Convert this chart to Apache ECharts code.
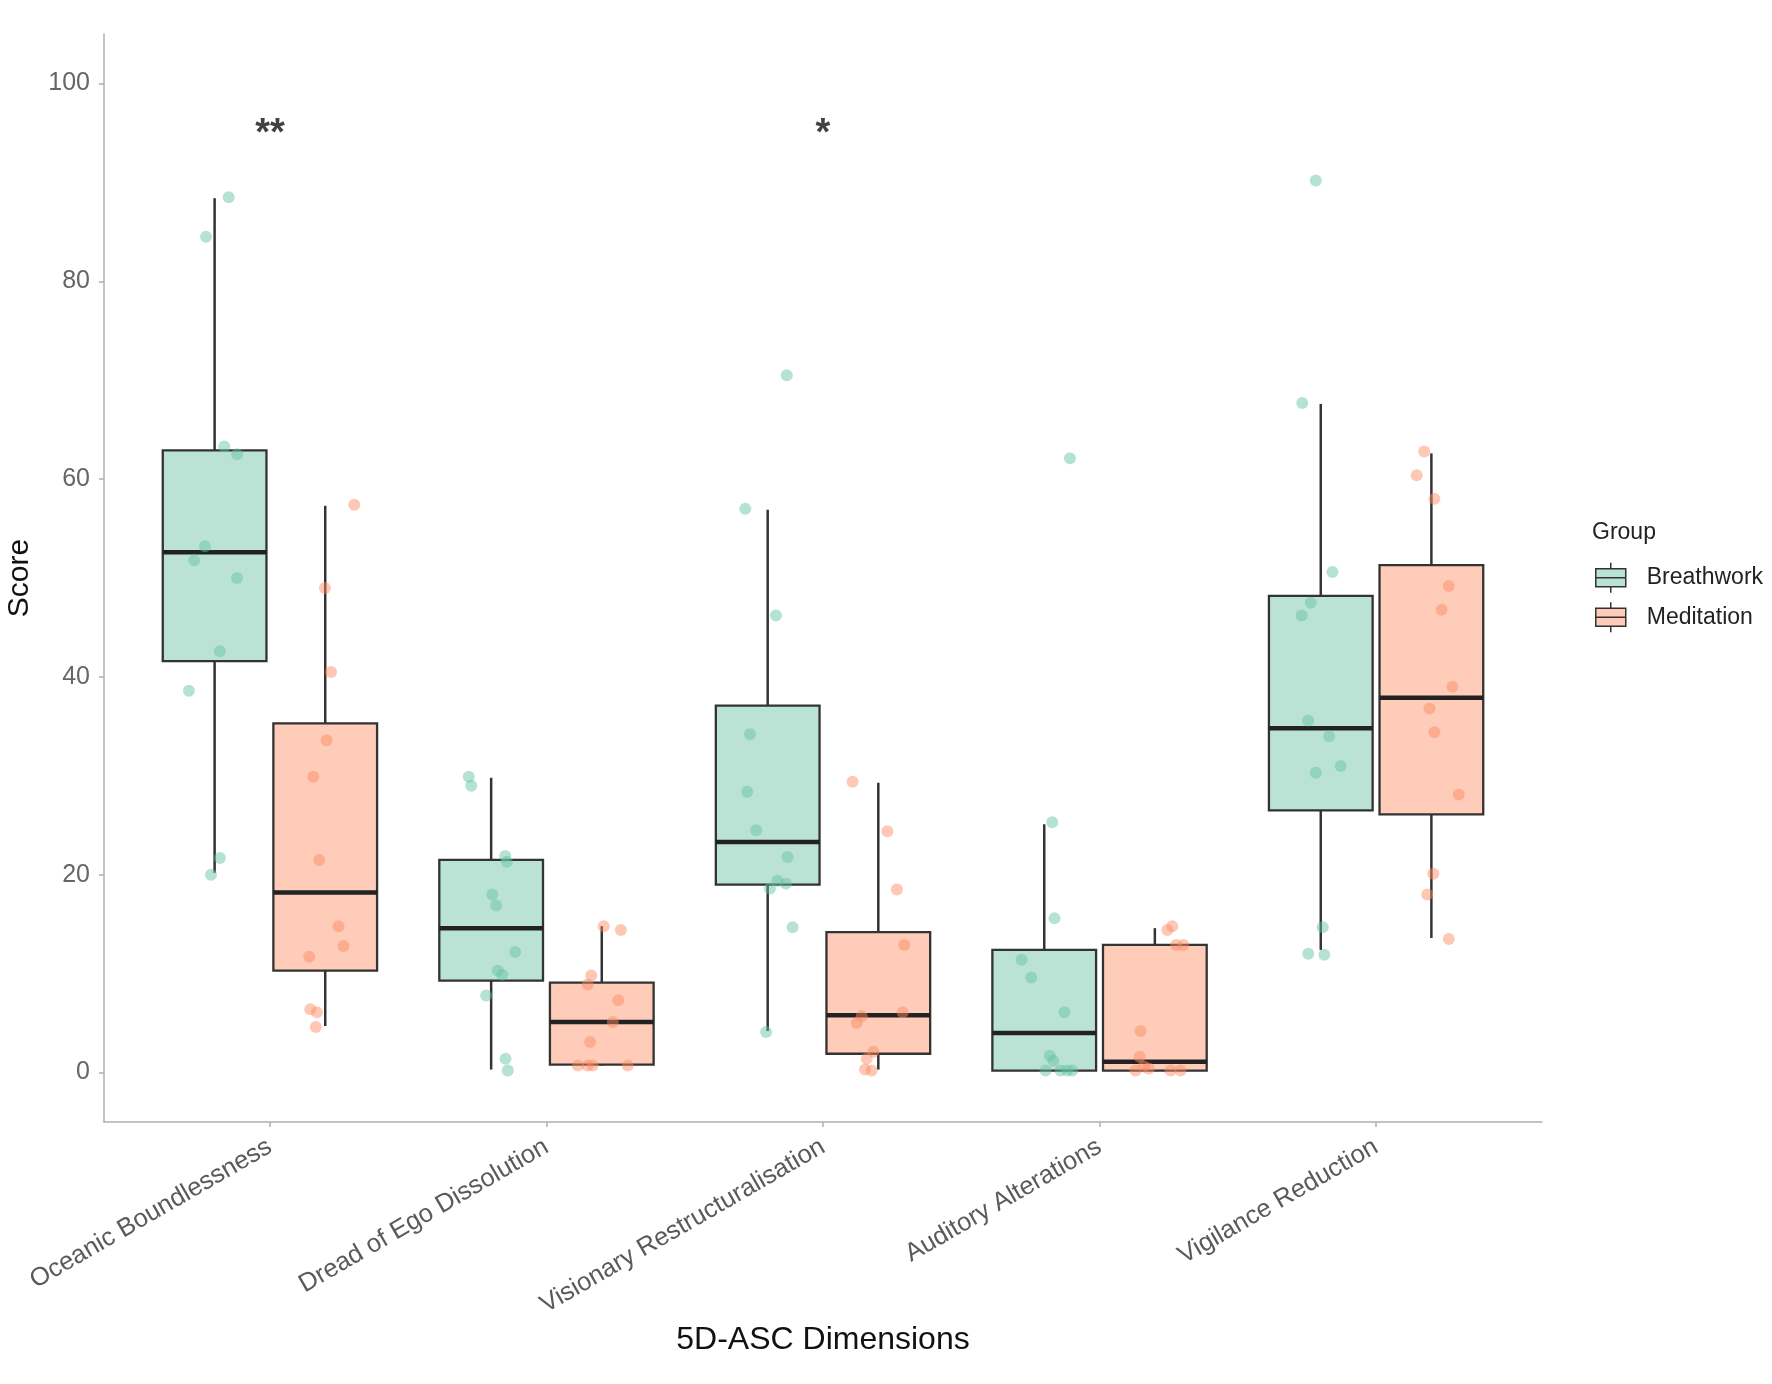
<!DOCTYPE html>
<html>
<head>
<meta charset="utf-8">
<script src="https://cdn.jsdelivr.net/npm/echarts@6/dist/echarts.min.js"></script>
<style>
  html, body { margin: 0; padding: 0; background: #fff; }
  #main { width: 1772px; height: 1384px; }
</style>
</head>
<body>
<div id="main"></div>
<script>
// 5D-ASC box plots, breathwork vs meditation
var categories = ['Oceanic Boundlessness', 'Dread of Ego Dissolution', 'Visionary Restructuralisation',
                  'Auditory Alterations', 'Vigilance Reduction'];
var groups = ['Breathwork', 'Meditation'];
var yTicks = [0, 20, 40, 60, 80, 100];
var sigLabels = ['**', '', '*', '', ''];

// box stats per category: [lower whisker, Q1, median, Q3, upper whisker]
var breathworkBox = [
    [20.2, 41.6, 52.6, 62.9, 88.4],
    [0.3, 9.3, 14.6, 21.5, 29.8],
    [4.2, 19.0, 23.3, 37.1, 56.9],
    [0.2, 0.2, 4.0, 12.4, 25.1],
    [12.4, 26.5, 34.8, 48.2, 67.6]
];
var meditationBox = [
    [4.7, 10.3, 18.2, 35.3, 57.3],
    [0.7, 0.8, 5.1, 9.1, 14.8],
    [0.3, 1.9, 5.8, 14.2, 29.3],
    [0.2, 0.2, 1.1, 12.9, 14.6],
    [13.6, 26.1, 37.9, 51.3, 62.6]
];

// individual scores per category: [jitter, score]
var breathworkScores = [
    [[0.051,88.5],[-0.031,84.5],[0.035,63.3],[0.081,62.5],[-0.035,53.2],[-0.074,51.8],[0.081,50.0],[0.019,42.6],[-0.093,38.6],[0.019,21.7],[-0.013,20.0]],
    [[-0.081,29.9],[-0.072,29.0],[0.051,21.9],[0.057,21.3],[0.004,18.0],[0.018,16.9],[0.087,12.2],[0.024,10.3],[0.040,9.9],[-0.018,7.8],[0.052,1.4],[0.060,0.2]],
    [[0.069,70.5],[-0.081,57.0],[0.030,46.2],[-0.064,34.2],[-0.074,28.4],[-0.042,24.5],[0.072,21.8],[0.035,19.4],[0.008,18.6],[0.066,19.1],[0.090,14.7],[-0.006,4.1]],
    [[0.093,62.1],[0.029,25.3],[0.037,15.6],[-0.082,11.4],[-0.047,9.6],[0.073,6.1],[0.020,1.7],[0.033,1.2],[0.005,0.2],[0.059,0.2],[0.083,0.2],[0.101,0.2]],
    [[-0.018,90.2],[-0.067,67.7],[0.042,50.6],[-0.036,47.5],[-0.069,46.2],[-0.046,35.6],[0.030,34.0],[0.072,31.0],[-0.018,30.3],[0.007,14.7],[-0.045,12.0],[0.013,11.9]]
];
var meditationScores = [
    [[0.105,57.4],[-0.001,49.0],[0.021,40.5],[0.005,33.6],[-0.043,29.9],[-0.022,21.5],[0.048,14.8],[0.066,12.8],[-0.058,11.7],[-0.054,6.4],[-0.030,6.1],[-0.034,4.6]],
    [[0.007,14.8],[0.069,14.4],[-0.038,9.8],[-0.051,8.9],[0.060,7.3],[0.040,5.1],[-0.042,3.1],[-0.086,0.7],[-0.051,0.7],[-0.033,0.7],[0.094,0.7]],
    [[-0.093,29.4],[0.033,24.4],[0.067,18.5],[0.094,12.9],[0.088,6.1],[-0.060,5.7],[-0.078,5.0],[-0.018,2.1],[-0.042,1.4],[-0.048,0.3],[-0.024,0.2]],
    [[0.063,14.8],[0.045,14.4],[0.077,12.9],[0.103,12.9],[-0.052,4.2],[-0.055,1.6],[-0.040,0.6],[-0.022,0.4],[-0.070,0.2],[0.057,0.2],[0.093,0.2]],
    [[-0.026,62.8],[-0.053,60.4],[0.011,58.0],[0.063,49.2],[0.037,46.8],[0.076,39.0],[-0.007,36.8],[0.011,34.4],[0.099,28.1],[0.007,20.1],[-0.015,18.0],[0.063,13.5]]
];

var dodge = 0.2, boxWidth = 0.375;
var fills = ['rgba(102,194,165,0.45)', 'rgba(252,141,98,0.45)'];
var dots = ['rgba(102,194,165,0.6)', 'rgba(252,141,98,0.6)'];
var font = 'Liberation Sans, Arial, sans-serif';

function boxData(stats, shift) {
    return stats.map(function (s, i) { return [i + 1 + shift].concat(s); });
}
function pointData(scores, shift) {
    var out = [];
    scores.forEach(function (list, i) {
        list.forEach(function (p) { out.push([i + 1 + shift + p[0], p[1]]); });
    });
    return out;
}

function renderBox(fill) {
    return function (params, api) {
        var x = api.value(0);
        var low = api.coord([x, api.value(1)]);
        var q1 = api.coord([x, api.value(2)]);
        var med = api.coord([x, api.value(3)]);
        var q3 = api.coord([x, api.value(4)]);
        var high = api.coord([x, api.value(5)]);
        var w = api.size([boxWidth, 0])[0];
        var cx = q1[0];
        return {
            type: 'group',
            children: [
                { type: 'line', shape: { x1: cx, y1: low[1], x2: cx, y2: q1[1] }, style: { stroke: '#333', lineWidth: 2.5 } },
                { type: 'line', shape: { x1: cx, y1: q3[1], x2: cx, y2: high[1] }, style: { stroke: '#333', lineWidth: 2.5 } },
                { type: 'rect', shape: { x: cx - w / 2, y: q3[1], width: w, height: q1[1] - q3[1] },
                  style: { fill: fill, stroke: '#333', lineWidth: 2.3 } },
                { type: 'line', shape: { x1: cx - w / 2, y1: med[1], x2: cx + w / 2, y2: med[1] },
                  style: { stroke: '#222', lineWidth: 4.5 } }
            ]
        };
    };
}

var myChart = echarts.init(document.getElementById('main'));

var option = {
    backgroundColor: '#fff',
    animation: false,
    textStyle: { fontFamily: font },
    title: {
        text: 'Group', left: 1592, top: 521, padding: 0,
        textStyle: { fontSize: 23, fontWeight: 'normal', color: '#222', fontFamily: font }
    },
    legend: {
        orient: 'vertical', left: 1595, top: 562, padding: 0,
        itemWidth: 30, itemHeight: 30, itemGap: 8,
        icon: 'path://M15,0 L15,6 M0,6 L30,6 L30,24 L0,24 Z M0,15 L30,15 M15,24 L15,30',
        itemStyle: { borderColor: '#333', borderWidth: 1.5 },
        textStyle: { fontSize: 23, color: '#222', fontFamily: font, padding: [0, 0, 0, 16] },
        data: [
            { name: groups[0], itemStyle: { color: fills[0] } },
            { name: groups[1], itemStyle: { color: fills[1] } }
        ]
    },
    grid: { left: 104, right: 230, top: 34, bottom: 262, containLabel: false, outerBoundsMode: 'none' },
    xAxis: {
        type: 'value', min: 0.4, max: 5.6,
        name: '5D-ASC Dimensions', nameLocation: 'middle', nameGap: 200,
        nameTextStyle: { fontSize: 32, color: '#111', fontFamily: font },
        axisLine: { onZero: false, lineStyle: { color: '#b0b0b0', width: 1.5 } },
        axisTick: { customValues: [1, 2, 3, 4, 5], length: 5, lineStyle: { color: '#b0b0b0', width: 1.5 } },
        axisLabel: {
            customValues: [1, 2, 3, 4, 5], rotate: 30, margin: 23,
            fontSize: 25.6, color: '#5a5a5a', fontFamily: font,
            formatter: function (v) { return categories[Math.round(v) - 1]; }
        },
        splitLine: { show: false }
    },
    yAxis: {
        type: 'value', min: -5, max: 105,
        name: 'Score', nameLocation: 'middle', nameGap: 69,
        nameTextStyle: { fontSize: 30, color: '#111', fontFamily: font },
        axisLine: { show: true, onZero: false, lineStyle: { color: '#b0b0b0', width: 1.5 } },
        axisTick: { show: true, customValues: yTicks, length: 5, lineStyle: { color: '#b0b0b0', width: 1.5 } },
        axisLabel: { customValues: yTicks, margin: 14, fontSize: 25, color: '#666', fontFamily: font },
        splitLine: { show: false }
    },
    series: [
        {
            name: groups[0], type: 'custom', renderItem: renderBox(fills[0]),
            itemStyle: { color: fills[0] },
            encode: { x: 0, y: [1, 2, 3, 4, 5] },
            data: boxData(breathworkBox, -dodge), z: 2
        },
        {
            name: groups[1], type: 'custom', renderItem: renderBox(fills[1]),
            itemStyle: { color: fills[1] },
            encode: { x: 0, y: [1, 2, 3, 4, 5] },
            data: boxData(meditationBox, dodge), z: 2
        },
        {
            name: groups[0], type: 'scatter', symbolSize: 12,
            itemStyle: { color: dots[0] },
            data: pointData(breathworkScores, -dodge), z: 3
        },
        {
            name: groups[1], type: 'scatter', symbolSize: 12,
            itemStyle: { color: dots[1] },
            data: pointData(meditationScores, dodge), z: 3
        },
        {
            name: 'sig', type: 'scatter', symbolSize: 1, z: 4, silent: true,
            itemStyle: { color: 'rgba(0,0,0,0)' },
            data: sigLabels.map(function (s, i) { return s ? [i + 1, 94.8] : null; }).filter(Boolean),
            label: {
                show: true, position: 'inside', fontSize: 38, fontWeight: 'bold', color: '#111', fontFamily: font,
                formatter: function (p) { return sigLabels[Math.round(p.value[0]) - 1]; }
            }
        }
    ]
};
myChart.setOption(option);
</script>
</body>
</html>
